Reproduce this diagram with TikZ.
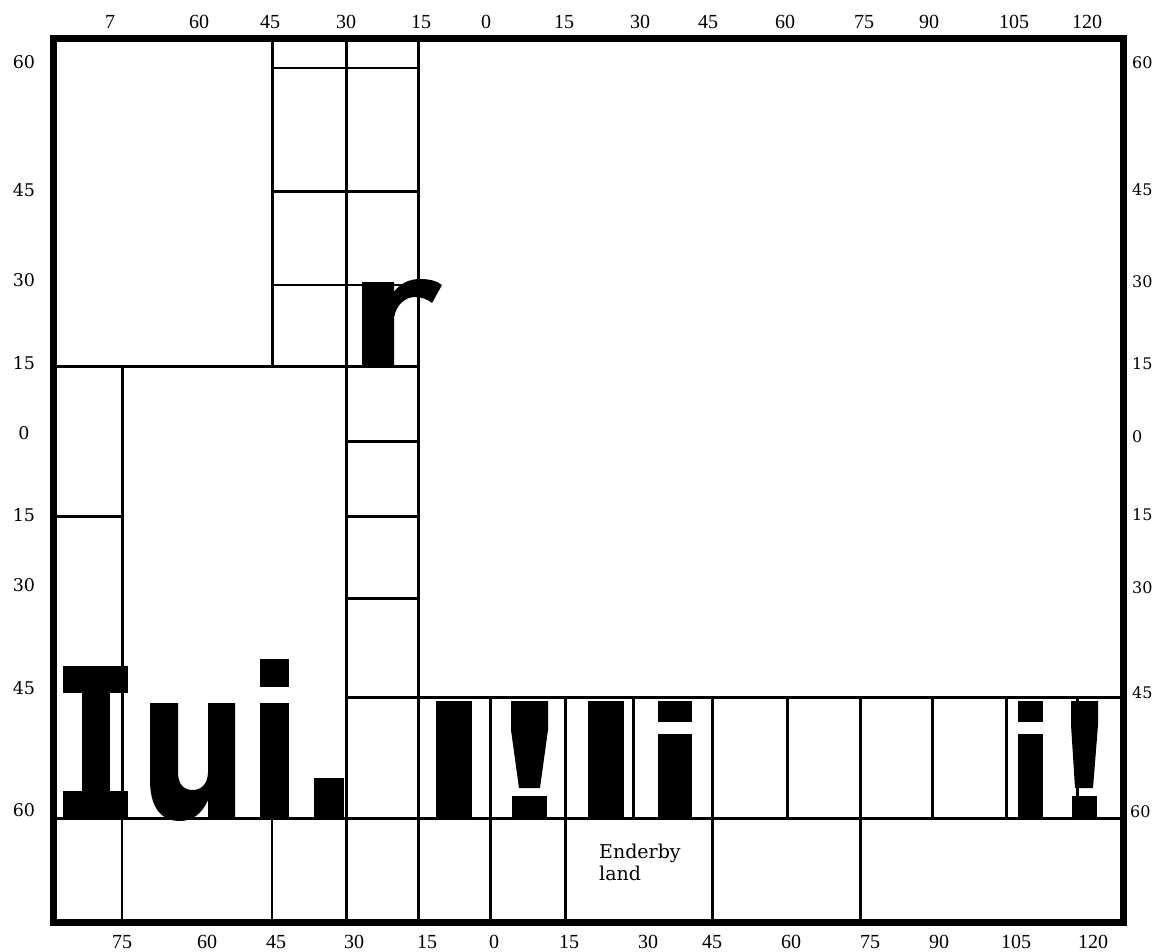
\documentclass[tikz,border=0pt]{standalone}
\usepackage{fontspec}
\newfontfamily\tbfont{Liberation Serif}
\newfontfamily\sdfont{DejaVu Serif}
\begin{document}
\begin{tikzpicture}[x=1pt,y=-1pt,
  gridline/.style={line width=3pt},
  thingrid/.style={line width=2pt},
  framebox/.style={line width=7pt},
  glyph/.style={fill=black},
  tlab/.style={font=\tbfont\fontsize{20}{20}\selectfont, inner sep=0pt},
  slab/.style={font=\sdfont\fontsize{17.5}{17.5}\selectfont, inner sep=0pt},
  rlab/.style={font=\sdfont\fontsize{16}{16}\selectfont, inner sep=0pt, anchor=west},
  place/.style={font=\sdfont\fontsize{19}{21}\selectfont, inner sep=0pt, anchor=base west}]
\useasboundingbox (0,0) rectangle (1154,952);
% grid lines
\draw[gridline] (272,39) -- (272,366);
\draw[gridline] (346,39) -- (346,922);
\draw[gridline] (418,39) -- (418,922);
\draw[gridline] (122,366) -- (122,818);
\draw[thingrid] (122,818) -- (122,922);
\draw[thingrid] (272,818) -- (272,922);
\foreach \x in {490,565,712,860} \draw[gridline] (\x,697) -- (\x,922);
\foreach \x in {633,787,932,1006,1077} \draw[gridline] (\x,697) -- (\x,818);
\draw[thingrid] (272,68) -- (418,68);
\draw[gridline] (272,192) -- (418,192);
\draw[thingrid] (272,285) -- (418,285);
\draw[gridline] (53,366) -- (418,366);
\draw[gridline] (346,441) -- (418,441);
\draw[gridline] (53,516) -- (122,516);
\draw[gridline] (346,516) -- (418,516);
\draw[gridline] (346,598) -- (418,598);
\draw[gridline] (346,697) -- (1123,697);
\draw[gridline] (53,818) -- (1123,818);
% frame
\draw[framebox] (53,39) rectangle (1123,922);
% glyphs "Iui."
\fill[glyph] (63,666) rectangle (128,693);
\fill[glyph] (82,690) rectangle (110,794);
\fill[glyph] (63,791) rectangle (128,818);
\fill[glyph] (150,703) -- (178,703) -- (178,772) .. controls (178,785) and (184,790) .. (193,790)
  .. controls (201,790) and (208,784) .. (208,772) -- (208,703) -- (235,703) -- (235,817)
  -- (208,817) -- (208,800) .. controls (202,814) and (192,821) .. (180,821)
  .. controls (160,821) and (150,806) .. (150,780) -- cycle;
\fill[glyph] (260,659) rectangle (289,687);
\fill[glyph] (260,703) rectangle (289,817);
\fill[glyph] (314,778) rectangle (344,818);
% glyph "r"
\fill[glyph] (362,282) -- (394,282) -- (394,292) .. controls (400,283) and (410,279) .. (420,279)
  .. controls (430,279) and (437,281) .. (442,285) -- (432,303)
  .. controls (427,299) and (421,297) .. (415,297)
  .. controls (405,297) and (396,305) .. (394,318) -- (394,366) -- (362,366) -- cycle;
% bottom row glyphs
\fill[glyph] (436,701) rectangle (472,817);
\fill[glyph] (511,701) -- (548,701) -- (548,730) -- (540,788) -- (519,788) -- (511,730) -- cycle;
\fill[glyph] (512,796) rectangle (547,817);
\fill[glyph] (588,701) rectangle (624,817);
\fill[glyph] (658,701) rectangle (692,722);
\fill[glyph] (658,734) rectangle (692,817);
\fill[glyph] (1018,701) rectangle (1043,722);
\fill[glyph] (1018,734) rectangle (1043,817);
\fill[glyph] (1071,701) -- (1098,701) -- (1098,725) -- (1093,788) -- (1075,788) -- (1071,725) -- cycle;
\fill[glyph] (1072,796) rectangle (1097,817);
% top labels
\foreach \x/\t [count=\i] in {110/7,199/60,270/45,346/30,421/15,486/0,564/15,640/30,708/45,785/60,864/75,929/90,1014/105,1087/120}
  \node[tlab] (top\i) at (\x,22) {\t};
% bottom labels
\foreach \x/\t [count=\i] in {122/75,207/60,276/45,354/30,427/15,494/0,569/15,648/30,712/45,791/60,870/75,939/90,1016/105,1093/120}
  \node[tlab] (bot\i) at (\x,942) {\t};
% left labels
\foreach \y/\t [count=\i] in {62/60,190/45,280/30,363/15,433/0,515/15,585/30,688/45,810/60}
  \node[slab] (lft\i) at (24,\y) {\t};
% right labels
\foreach \y/\t [count=\i] in {63/60,190/45,282/30,364/15,437/0,515/15,588/30,693/45}
  \node[rlab] (rgt\i) at (1132,\y) {\t};
\node[rlab] (rgt9) at (1130,812) {60};
% place name
\node[place] (ender1) at (599,858) {Enderby};
\node[place] (ender2) at (599,880) {land};
\end{tikzpicture}
\end{document}
